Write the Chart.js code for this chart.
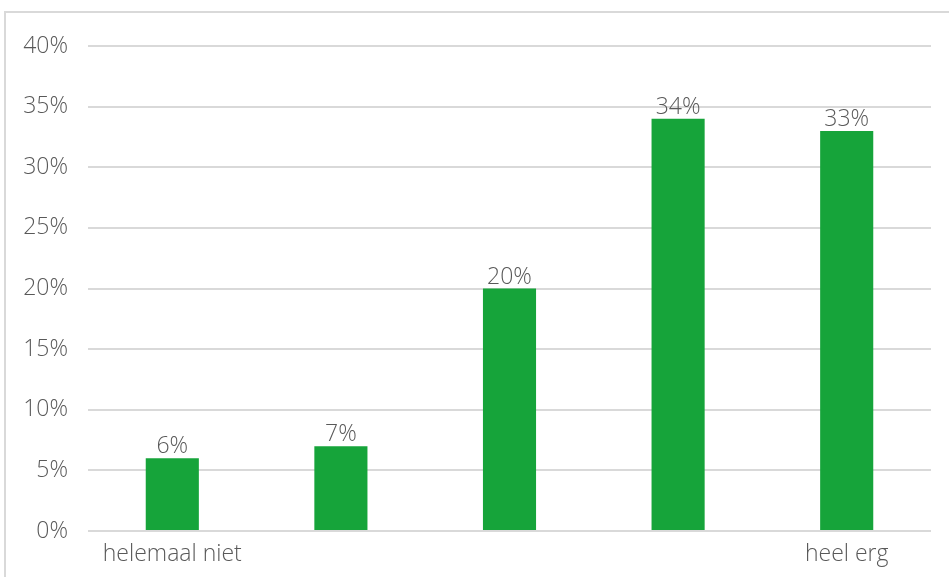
<!DOCTYPE html>
<html>
<head>
<meta charset="utf-8">
<script src="https://cdn.jsdelivr.net/npm/chart.js@4"></script>
<style>
  html, body { margin: 0; padding: 0; background: #fff; }
  #wrap { position: relative; width: 949px; height: 577px; overflow: hidden; }
  #frame {
    position: absolute; left: 4px; top: 11px; width: 1000px; height: 600px;
    border-top: 2px solid #d9d9d9; border-left: 2px solid #d9d9d9;
  }
  canvas { position: absolute; left: 0; top: 0; }
</style>
</head>
<body>
<div id="wrap">
  <div id="frame"></div>
  <canvas id="barChart" width="949" height="577"></canvas>
</div>
<script>
// categories, values (percent) and y-axis ticks
const categories = ['helemaal niet', '', '', '', 'heel erg'];
const values = [6, 7, 20, 34, 33];
const yTicks = [0, 5, 10, 15, 20, 25, 30, 35, 40];

const textColor = '#595959';
const fontFamily = '"Open Sans", sans-serif';
const fontSize = 23;

// writes the value above each bar
const valueLabels = {
  id: 'valueLabels',
  afterDatasetsDraw(chart) {
    const ctx = chart.ctx;
    const meta = chart.getDatasetMeta(0);
    ctx.save();
    ctx.fillStyle = textColor;
    ctx.font = '300 ' + fontSize + 'px ' + fontFamily;
    ctx.textAlign = 'center';
    ctx.textBaseline = 'alphabetic';
    meta.data.forEach((bar, i) => {
      ctx.fillText(values[i] + '%', bar.x, bar.y - 5);
    });
    ctx.restore();
  }
};

new Chart(document.getElementById('barChart').getContext('2d'), {
  type: 'bar',
  data: {
    labels: categories,
    datasets: [{
      data: values,
      backgroundColor: '#16a43a',
      categoryPercentage: 1,
      barPercentage: 0.315
    }]
  },
  options: {
    responsive: false,
    animation: false,
    layout: { padding: { top: 46, right: 18, left: 0, bottom: 0 } },
    plugins: { legend: { display: false }, tooltip: { enabled: false } },
    scales: {
      y: {
        min: 0,
        max: 40,
        afterBuildTicks: (axis) => { axis.ticks = yTicks.map(v => ({ value: v })); },
        afterFit: (axis) => { axis.width = 88; },
        border: { display: false },
        grid: { color: '#d9d9d9', lineWidth: 2, drawTicks: false },
        ticks: {
          padding: 20,
          color: textColor,
          font: { family: fontFamily, size: fontSize, weight: '300' },
          callback: (v) => v + '%'
        }
      },
      x: {
        afterFit: (axis) => { axis.height = 46; },
        border: { display: false },
        grid: { display: false },
        ticks: {
          padding: 2,
          color: textColor,
          maxRotation: 0,
          autoSkip: false,
          font: { family: fontFamily, size: fontSize, weight: '300' }
        }
      }
    }
  },
  plugins: [valueLabels]
});
</script>
</body>
</html>
